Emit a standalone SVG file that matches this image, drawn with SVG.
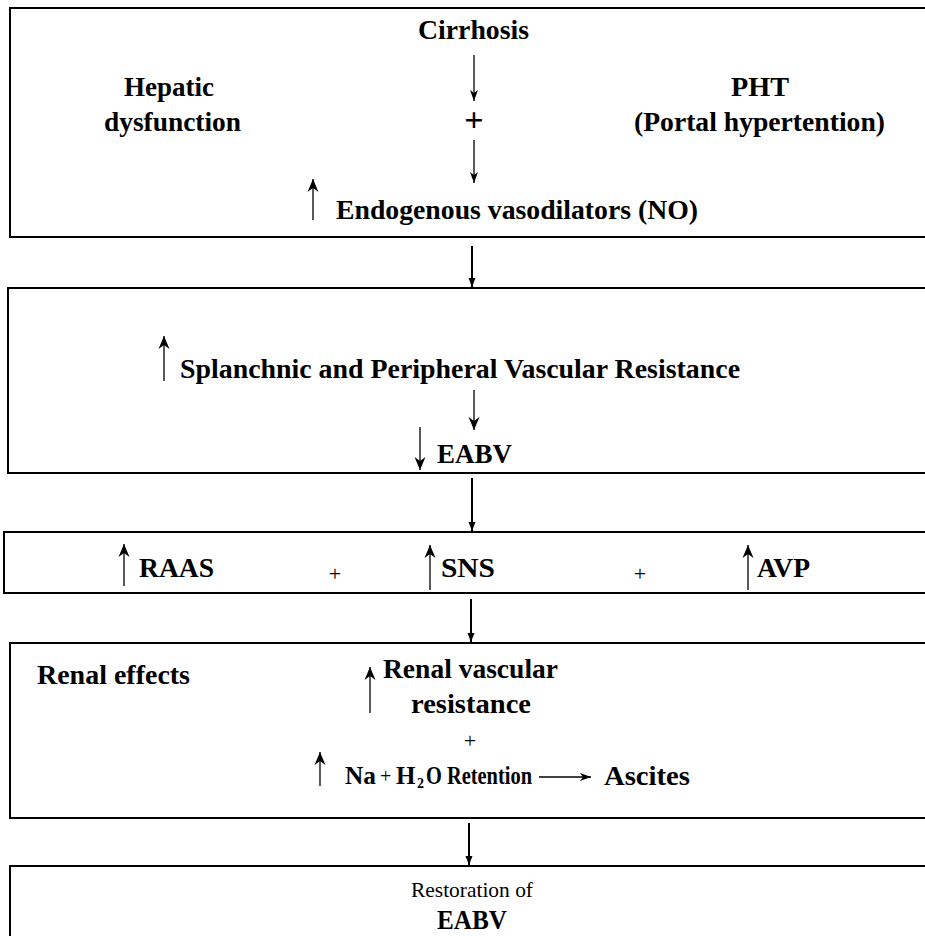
<svg xmlns="http://www.w3.org/2000/svg" width="925" height="936" viewBox="0 0 925 936">
<style>
.box{fill:#fff;stroke:#000;stroke-width:2}
.t{font-weight:bold;font-size:28px;fill:#000}
.s{font-weight:bold;font-size:25px;fill:#000}
.r{font-weight:normal;font-size:22px;fill:#000}
.a{stroke:#000;stroke-width:1.3;fill:none;marker-end:url(#h)}
.ab{stroke:#000;stroke-width:1.3;fill:none;marker-end:url(#hb)}
.c{stroke:#000;stroke-width:2;fill:none;marker-end:url(#hc)}
</style>
<defs>
<marker id="h" markerUnits="userSpaceOnUse" markerWidth="12" markerHeight="10" refX="11" refY="5" orient="auto"><path d="M0,1 L11,5 L0,9 L3,5 Z" fill="#000"/></marker>
<marker id="hb" markerUnits="userSpaceOnUse" markerWidth="14" markerHeight="12" refX="13" refY="6" orient="auto"><path d="M0,0.5 L13,6 L0,11.5 L4,6 Z" fill="#000"/></marker>
<marker id="hc" markerUnits="userSpaceOnUse" markerWidth="10" markerHeight="8" refX="9" refY="4" orient="auto"><path d="M0,0.5 L9,4 L0,7.5 Z" fill="#000"/></marker>
</defs>
<rect width="925" height="936" fill="#fff"/>
<g id="connectors">
<line class="c" x1="472" y1="246" x2="472" y2="287"/>
<line class="c" x1="472" y1="478" x2="472" y2="531"/>
<line class="c" x1="471" y1="599" x2="471" y2="642"/>
<line class="c" x1="469" y1="823" x2="469" y2="865"/>
</g>
<g font-family="Liberation Serif, Tinos, DejaVu Serif, Noto Serif, serif">
<g id="box1">
<rect class="box" x="10" y="8" width="930" height="229"/>
<text class="t" x="418" y="39" textLength="111" lengthAdjust="spacingAndGlyphs">Cirrhosis</text>
<text class="t" x="124" y="96" textLength="90" lengthAdjust="spacingAndGlyphs">Hepatic</text>
<text class="t" x="104" y="131" textLength="137" lengthAdjust="spacingAndGlyphs">dysfunction</text>
<text class="t" x="731" y="96" textLength="58" lengthAdjust="spacingAndGlyphs">PHT</text>
<text class="t" x="634" y="131" textLength="251" lengthAdjust="spacingAndGlyphs">(Portal hypertention)</text>
<line class="a" x1="474" y1="55" x2="474" y2="101"/>
<text class="t" x="474" y="131" text-anchor="middle" style="font-size:34px">+</text>
<line class="a" x1="474" y1="140" x2="474" y2="183"/>
<line class="ab" x1="313" y1="220" x2="313" y2="179"/>
<text class="t" x="336" y="219" textLength="362" lengthAdjust="spacingAndGlyphs">Endogenous vasodilators (NO)</text>
</g>
<g id="box2">
<rect class="box" x="8" y="288" width="930" height="185"/>
<line class="ab" x1="164" y1="381" x2="164" y2="336"/>
<text class="t" x="180" y="378" textLength="560" lengthAdjust="spacingAndGlyphs">Splanchnic and Peripheral Vascular Resistance</text>
<line class="ab" x1="474" y1="390" x2="474" y2="430"/>
<line class="ab" x1="420" y1="427" x2="420" y2="470"/>
<text class="t" x="437" y="463" textLength="75" lengthAdjust="spacingAndGlyphs">EABV</text>
</g>
<g id="box3">
<rect class="box" x="4" y="532" width="930" height="61"/>
<line class="ab" x1="124" y1="586" x2="124" y2="544"/>
<text class="t" x="139" y="577" textLength="75" lengthAdjust="spacingAndGlyphs">RAAS</text>
<text class="r" x="335" y="581" text-anchor="middle">+</text>
<line class="ab" x1="430" y1="590" x2="430" y2="545"/>
<text class="t" x="441" y="577" textLength="54" lengthAdjust="spacingAndGlyphs">SNS</text>
<text class="r" x="640" y="581" text-anchor="middle">+</text>
<line class="ab" x1="748" y1="590" x2="748" y2="545"/>
<text class="t" x="757" y="577" textLength="53" lengthAdjust="spacingAndGlyphs">AVP</text>
</g>
<g id="box4">
<rect class="box" x="10" y="643" width="930" height="175"/>
<text class="t" x="37" y="684" textLength="153" lengthAdjust="spacingAndGlyphs">Renal effects</text>
<line class="ab" x1="370" y1="713" x2="370" y2="667"/>
<text class="t" x="383" y="678" textLength="175" lengthAdjust="spacingAndGlyphs">Renal vascular</text>
<text class="t" x="411" y="713" textLength="120" lengthAdjust="spacingAndGlyphs">resistance</text>
<text class="r" x="470" y="748" text-anchor="middle">+</text>
<line class="ab" x1="320" y1="786" x2="320" y2="752"/>
<text class="s" x="345" y="784" textLength="31" lengthAdjust="spacingAndGlyphs">Na</text>
<text class="r" x="380" y="783" style="font-size:20px">+</text>
<text class="s" x="396" y="784">H</text>
<text class="s" x="417" y="788" style="font-size:14px">2</text>
<text class="s" x="426" y="784" textLength="106" lengthAdjust="spacingAndGlyphs">O Retention</text>
<line class="a" x1="539" y1="777" x2="591" y2="777"/>
<text class="t" x="604" y="785" textLength="86" lengthAdjust="spacingAndGlyphs">Ascites</text>
</g>
<g id="box5">
<rect class="box" x="10" y="866" width="930" height="90"/>
<text class="r" x="411" y="897" textLength="122" lengthAdjust="spacingAndGlyphs">Restoration of</text>
<text class="t" x="437" y="929" textLength="70" lengthAdjust="spacingAndGlyphs">EABV</text>
</g>
</g>
</svg>
